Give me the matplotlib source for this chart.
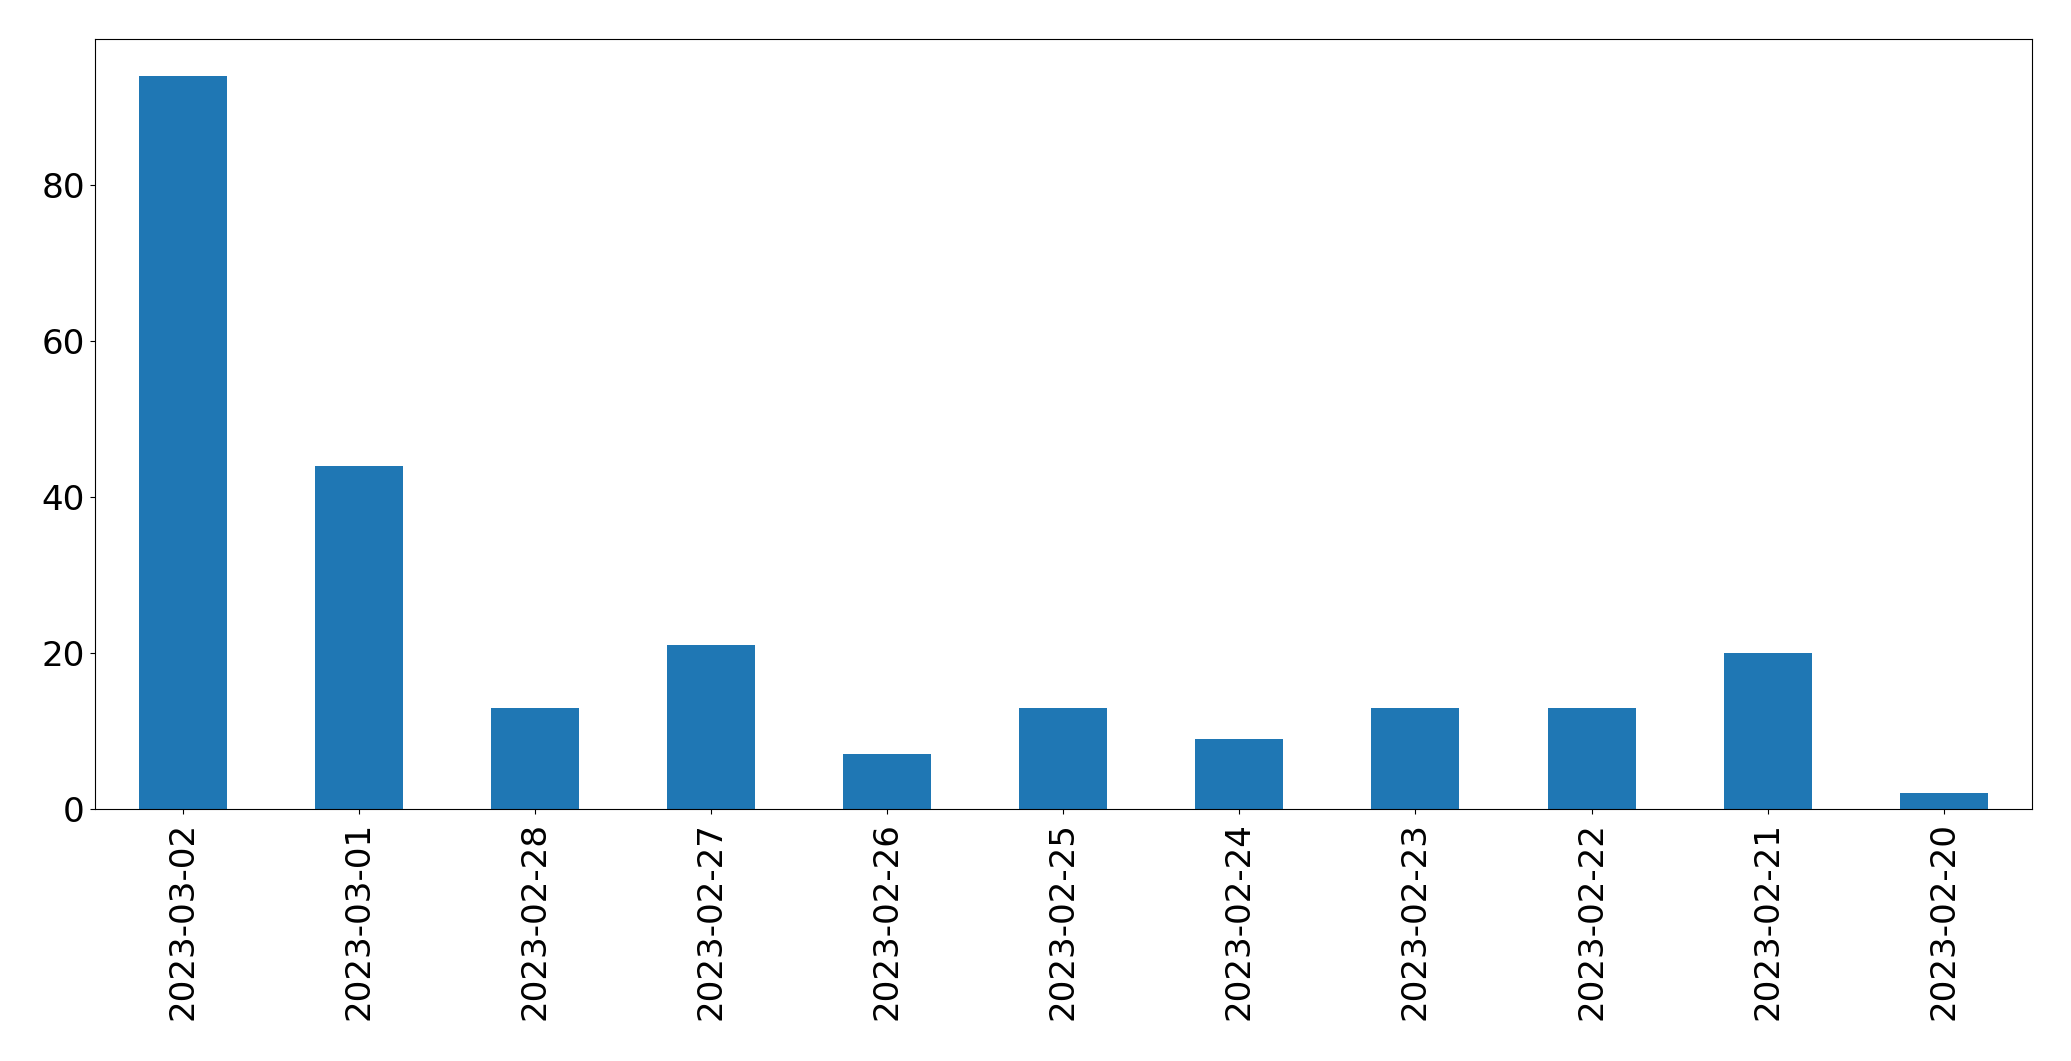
import matplotlib
matplotlib.use('Agg')
import matplotlib.pyplot as plt
import pandas as pd

# daily counts, newest first
dates = ['2023-03-02', '2023-03-01', '2023-02-28', '2023-02-27', '2023-02-26',
         '2023-02-25', '2023-02-24', '2023-02-23', '2023-02-22', '2023-02-21',
         '2023-02-20']
counts = [94, 44, 13, 21, 7, 13, 9, 13, 13, 20, 2]

s = pd.Series(counts, index=dates)

fig = plt.figure(figsize=(20.714, 10.614), dpi=100)
ax = fig.add_axes([94.5 / 2071, 1 - 809 / 1061, (2031.5 - 94.5) / 2071, (809 - 39.5) / 1061])
s.plot(kind='bar', ax=ax, color='#1f77b4', fontsize=24.6)
ax.tick_params(axis='x', pad=5.5)

plt.savefig('out.png', dpi=100)
